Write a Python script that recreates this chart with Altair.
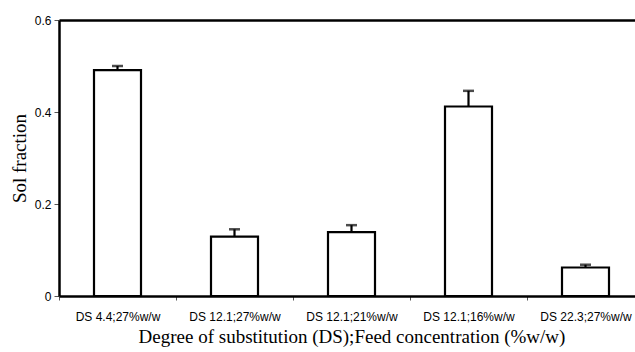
import altair as alt
import pandas as pd

categories = ["DS 4.4;27%w/w", "DS 12.1;27%w/w", "DS 12.1;21%w/w", "DS 12.1;16%w/w", "DS 22.3;27%w/w"]
values = [0.491, 0.129, 0.139, 0.412, 0.062]
errors = [0.009, 0.016, 0.015, 0.034, 0.006]
y_ticks = [0, 0.2, 0.4, 0.6]

df = pd.DataFrame({"cat": categories, "value": values, "err": errors})
df["top"] = df["value"] + df["err"]

xscale = alt.Scale(domain=categories, range=[0, 585], paddingInner=0, paddingOuter=0)
yscale = alt.Scale(domain=[0, 0.6], nice=False, zero=True)

yaxis = alt.Axis(
    values=y_ticks, title="Sol fraction", grid=False,
    labelExpr="datum.value == 0 ? '0' : format(datum.value, '.1f')",
    labelFont="Liberation Sans", labelFontSize=12, labelColor="black", labelPadding=3,
    tickSize=5, tickColor="#555", tickWidth=1,
    domainColor="black", domainWidth=2.5,
    titleFont="Liberation Serif", titleFontSize=19, titleFontWeight="normal", titleColor="black",
    titlePadding=5,
)

xaxis_bottom = alt.Axis(
    title="Degree of substitution (DS);Feed concentration (%w/w)",
    labelAngle=0, labelFont="Liberation Sans", labelFontSize=12, labelColor="black", labelPadding=11,
    tickBand="extent", tickSize=4, tickColor="#555", tickWidth=1,
    domainColor="black", domainWidth=2.5, grid=False,
    titleFont="Liberation Serif", titleFontSize=19, titleFontWeight="normal", titleColor="black",
    titlePadding=5,
)

xaxis_top = alt.Axis(orient="top", labels=False, ticks=False, title=None, grid=False,
                     domainColor="black", domainWidth=2.5)

base = alt.Chart(df)

bars = base.mark_bar(size=47, fill="white", stroke="black", strokeWidth=2.2).encode(
    x=alt.X("cat:N", scale=xscale, axis=xaxis_bottom, sort=categories),
    y=alt.Y("value:Q", scale=yscale, axis=yaxis),
)

rules = base.mark_rule(color="black", strokeWidth=2.2).encode(
    x=alt.X("cat:N", scale=xscale, axis=xaxis_top, sort=categories),
    y=alt.Y("value:Q", scale=yscale, axis=yaxis),
    y2="top:Q",
)

caps = base.mark_tick(color="black", size=11, thickness=2.5).encode(
    x=alt.X("cat:N", scale=xscale, axis=None, sort=categories),
    y=alt.Y("top:Q", scale=yscale, axis=yaxis),
)

chart = alt.layer(bars, rules, caps).resolve_axis(x="independent").properties(
    width=576, height=276,
    autosize=alt.AutoSizeParams(type="none"),
    padding={"left": 59, "top": 20, "right": 0, "bottom": 56},
).configure_view(stroke=None).configure(background="white")

chart.save("out.html", embed_options={"renderer": "svg", "actions": False})
